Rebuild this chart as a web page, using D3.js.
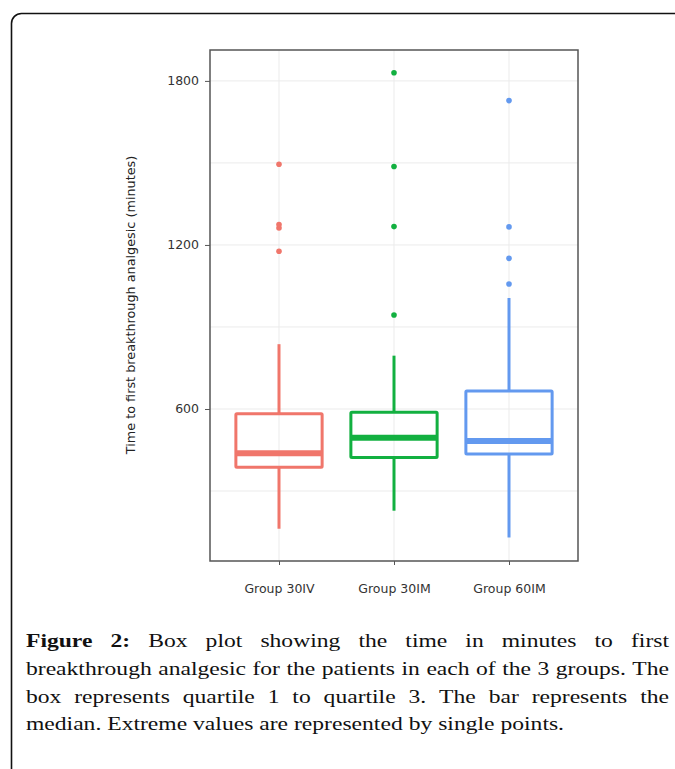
<!DOCTYPE html>
<meta charset="utf-8">
<style>
body { margin: 0; background: #fff; }
.axis text { font-family: "DejaVu Sans", sans-serif; font-size: 12.5px; fill: #333; }
.axis line { stroke: #555; }
.axis .domain { display: none; }
.ytitle { font-family: "DejaVu Sans", sans-serif; font-size: 12.8px; fill: #222; text-anchor: middle; }
.caption { font-family: "Liberation Serif", serif; font-size: 19px; fill: #111; }
</style>
<body>
<script src="https://d3js.org/d3.v7.min.js"></script>
<script>

var groups = ["Group 30IV", "Group 30IM", "Group 60IM"];
var colors = ["#f0766b", "#12b040", "#6399ef"];

// box summaries, minutes
var whiskerLow = [162, 228, 130];
var q1 = [387, 423, 435];
var median = [438, 495, 483];
var q3 = [583, 588, 666];
var whiskerHigh = [837, 795, 1006];
var outliers = [
  [1177, 1262, 1275, 1495],
  [944, 1267, 1487, 1830],
  [1057, 1151, 1266, 1728]
];

var yTicks = [600, 1200, 1800];
var yMinor = [300, 900, 1500];
var yTitle = "Time to first breakthrough analgesic (minutes)";

var captionBold = "Figure 2:";
var captionLines = [
  "Box plot showing the time in minutes to first",
  "breakthrough analgesic for the patients in each of the 3 groups. The",
  "box represents quartile 1 to quartile 3. The bar represents the",
  "median. Extreme values are represented by single points."
];

var width = 675,
    height = 769,
    pLeft = 210, pRight = 578, pTop = 50, pBottom = 561;

var svg = d3.select("body").append("svg")
    .attr("width", width)
    .attr("height", height);

// frame round the figure
svg.append("rect")
    .attr("x", 11.5).attr("y", 13.5)
    .attr("width", 720).attr("height", 800)
    .attr("rx", 10)
    .attr("fill", "none")
    .attr("stroke", "#111")
    .attr("stroke-width", 1.6);

var x = d3.scalePoint()
    .domain(groups)
    .range([pLeft, pRight])
    .padding(0.6);

var y = d3.scaleLinear()
    .domain([44, 1913])
    .range([pBottom, pTop]);

var boxW = x.step() * 0.75;

// grid
svg.append("g").selectAll("line")
    .data(yMinor.concat(yTicks))
  .enter().append("line")
    .attr("x1", pLeft).attr("x2", pRight)
    .attr("y1", function(d) { return y(d); })
    .attr("y2", function(d) { return y(d); })
    .attr("stroke", "#ebebeb")
    .attr("stroke-width", 1);

svg.append("g").selectAll("line")
    .data(groups)
  .enter().append("line")
    .attr("x1", function(d) { return x(d); })
    .attr("x2", function(d) { return x(d); })
    .attr("y1", pTop).attr("y2", pBottom)
    .attr("stroke", "#ebebeb")
    .attr("stroke-width", 1);

// boxes
var box = svg.append("g").selectAll("g")
    .data(groups)
  .enter().append("g")
    .attr("stroke", function(d, i) { return colors[i]; })
    .attr("fill", "none");

box.append("line")
    .attr("x1", function(d) { return x(d); })
    .attr("x2", function(d) { return x(d); })
    .attr("y1", function(d, i) { return y(whiskerHigh[i]); })
    .attr("y2", function(d, i) { return y(q3[i]); })
    .attr("stroke-width", 3);

box.append("line")
    .attr("x1", function(d) { return x(d); })
    .attr("x2", function(d) { return x(d); })
    .attr("y1", function(d, i) { return y(q1[i]); })
    .attr("y2", function(d, i) { return y(whiskerLow[i]); })
    .attr("stroke-width", 3);

box.append("rect")
    .attr("x", function(d) { return x(d) - boxW / 2; })
    .attr("y", function(d, i) { return y(q3[i]); })
    .attr("width", boxW)
    .attr("height", function(d, i) { return y(q1[i]) - y(q3[i]); })
    .attr("stroke-width", 3)
    .attr("rx", 1);

box.append("line")
    .attr("x1", function(d) { return x(d) - boxW / 2; })
    .attr("x2", function(d) { return x(d) + boxW / 2; })
    .attr("y1", function(d, i) { return y(median[i]); })
    .attr("y2", function(d, i) { return y(median[i]); })
    .attr("stroke-width", 6);

box.selectAll("circle")
    .data(function(d, i) { return outliers[i].map(function(v) { return {g: d, v: v, i: i}; }); })
  .enter().append("circle")
    .attr("cx", function(d) { return x(d.g); })
    .attr("cy", function(d) { return y(d.v); })
    .attr("r", 2.8)
    .attr("stroke", "none")
    .attr("fill", function(d) { return colors[d.i]; });

// panel border
svg.append("rect")
    .attr("x", pLeft).attr("y", pTop)
    .attr("width", pRight - pLeft).attr("height", pBottom - pTop)
    .attr("fill", "none")
    .attr("stroke", "#555")
    .attr("stroke-width", 1.5);

// axes
svg.append("g")
    .attr("class", "axis")
    .attr("transform", "translate(" + pLeft + ",0)")
    .call(d3.axisLeft(y).tickValues(yTicks).tickFormat(d3.format("d")).tickSize(5).tickPadding(6));

svg.append("g")
    .attr("class", "axis")
    .attr("transform", "translate(0," + pBottom + ")")
    .call(d3.axisBottom(x).tickSize(4).tickPadding(19));

svg.append("text")
    .attr("class", "ytitle")
    .attr("transform", "translate(135,305) rotate(-90)")
    .text(yTitle);

// caption, justified by hand
var capLeft = 26, capRight = 669, lastWidth = 538,
    baselines = [647, 675, 702.5, 730];

var cap = svg.append("g").attr("class", "caption");

// the printed serif is wider than Times: stretch glyphs so the last line runs as long
var last = captionLines[captionLines.length - 1];
var probe = cap.append("text").text(last);
var sx = Math.max(1, lastWidth / probe.node().getComputedTextLength());
probe.remove();

captionLines.forEach(function(line, li) {
  var words = line.split(" ").map(function(w) { return {t: w, b: false}; });
  if (li === 0) {
    words = captionBold.split(" ").map(function(w) { return {t: w, b: true}; }).concat(words);
  }
  var t = cap.append("text")
      .attr("transform", "translate(" + capLeft + "," + baselines[li] + ") scale(" + sx + ",1)");
  var spans = t.selectAll("tspan")
      .data(words)
    .enter().append("tspan")
      .attr("font-weight", function(d) { return d.b ? "bold" : null; })
      .text(function(d) { return d.t; });
  var widths = [];
  spans.each(function() { widths.push(this.getComputedTextLength()); });
  var total = d3.sum(widths);
  var isLast = li === captionLines.length - 1;
  var span = (isLast ? lastWidth : capRight - capLeft) / sx;
  var gap = (span - total) / (words.length - 1);
  var pos = 0;
  spans.attr("x", function(d, i) {
    var p = pos;
    pos += widths[i] + gap;
    return p;
  });
});

</script>
</body>
